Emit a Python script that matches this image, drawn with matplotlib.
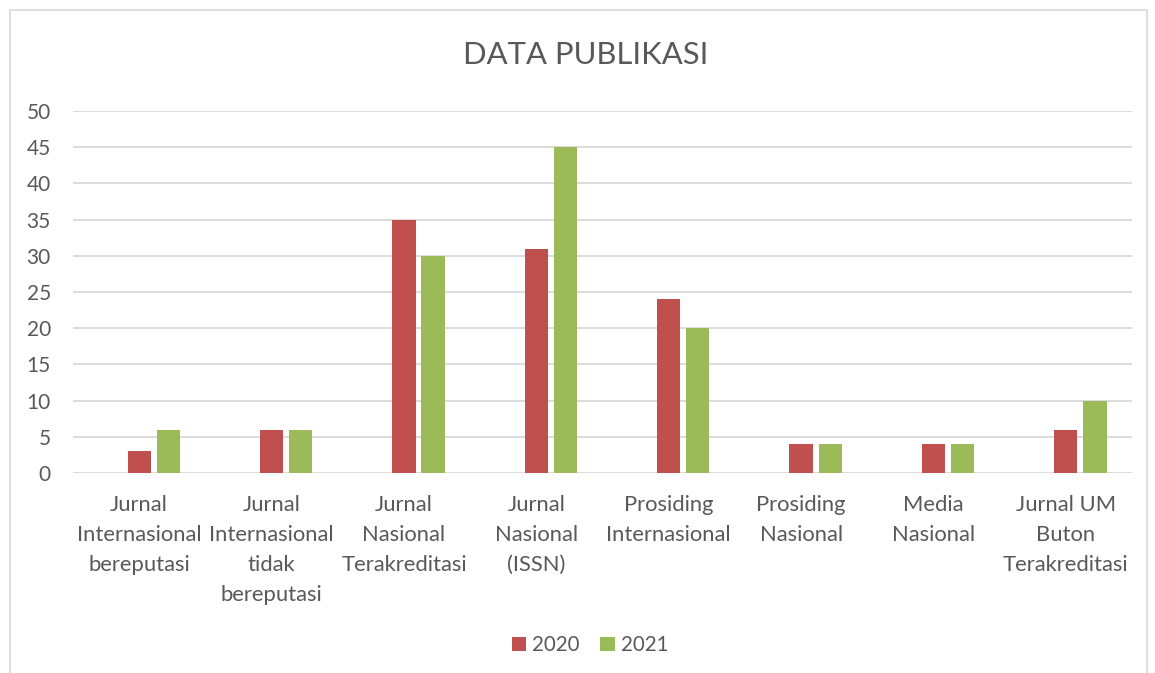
import numpy as np
import matplotlib.pyplot as plt
from matplotlib.patches import Rectangle

# data
categories = ["Jurnal\nInternasional\nbereputasi",
              "Jurnal\nInternasional\ntidak\nbereputasi",
              "Jurnal\nNasional\nTerakreditasi",
              "Jurnal\nNasional\n(ISSN)",
              "Prosiding\nInternasional",
              "Prosiding\nNasional",
              "Media\nNasional",
              "Jurnal UM\nButon\nTerakreditasi"]
val_2020 = [3, 6, 35, 31, 24, 4, 4, 6]
val_2021 = [6, 6, 30, 45, 20, 4, 4, 10]
yticks = list(range(0, 55, 5))

plt.rcParams['font.family'] = ['Lato', 'DejaVu Sans']
grey = '#595959'

fig = plt.figure(figsize=(11.55, 6.73), dpi=100)
ax = fig.add_axes([73/1155, 1-473/673, (1132-73)/1155, (473-111)/673])

x = np.arange(len(categories))
w = 0.175
ax.bar(x, val_2020, w, color='#C0504D', label='2020', zorder=3)
ax.bar(x + 0.22, val_2021, w, color='#9BBB59', label='2021', zorder=3)

ax.set_xlim(-0.5, len(categories) - 0.5)
ax.set_ylim(0, 50)
ax.set_yticks(yticks)
ax.yaxis.grid(True, color='#D9D9D9', linewidth=1.3, zorder=0)
ax.set_axisbelow(True)
for s in ax.spines.values():
    s.set_visible(False)
ax.tick_params(axis='both', length=0, colors=grey)
ax.tick_params(axis='y', pad=16, labelsize=15)
ax.tick_params(axis='x', pad=16, labelsize=15.8)
ax.set_xticks(x)
ax.set_xticklabels(categories, linespacing=1.62, va='top')

fig.text(586/1155, 1-55/673, "DATA PUBLIKASI", ha='center', va='center',
         fontsize=22.3, color=grey)

leg = fig.legend(loc='center', bbox_to_anchor=(590/1155, 1-645/673), ncol=2,
                 frameon=False, fontsize=14.8, handlelength=0.7, handleheight=0.7,
                 handletextpad=0.3, columnspacing=1.0)
for t in leg.get_texts():
    t.set_color(grey)

fig.patches.append(Rectangle((10/1155, -0.01), 1137/1155, 1-10/673 + 0.01,
                             transform=fig.transFigure, fill=False,
                             edgecolor='#D9D9D9', linewidth=1.2))

fig.savefig('out.png', dpi=100)
